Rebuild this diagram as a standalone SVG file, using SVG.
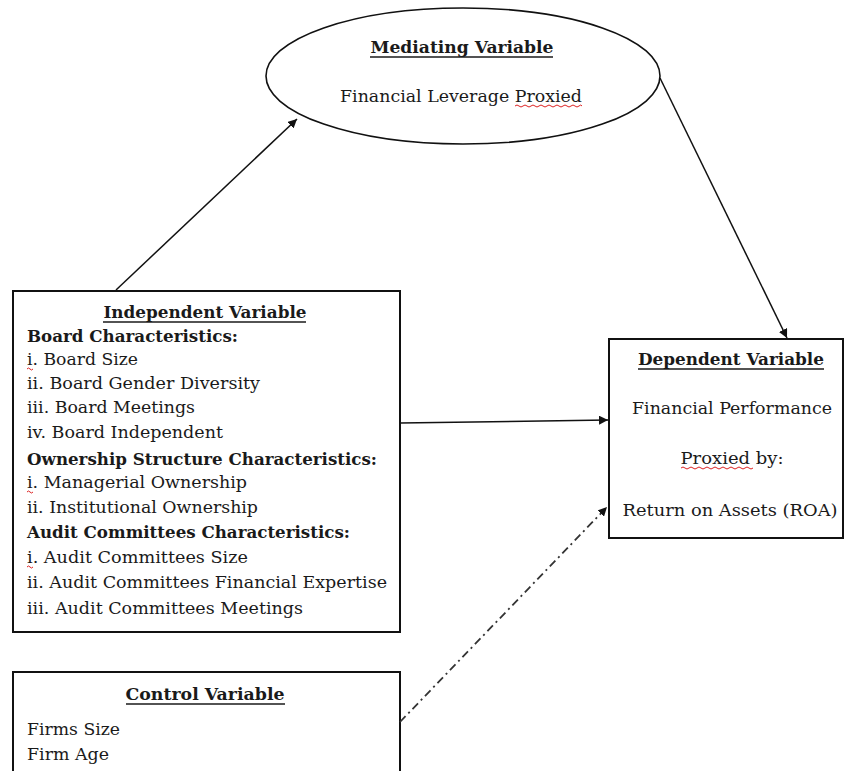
<svg xmlns="http://www.w3.org/2000/svg" width="846" height="771" viewBox="0 0 846 771">
<defs>
<style>
text{font-family:"DejaVu Serif","Liberation Serif",serif;font-size:17.5px;fill:#1a1a1a}
.b{font-weight:bold}
.box{fill:#fff;stroke:#111;stroke-width:2}
.ul{stroke:#1a1a1a;stroke-width:1.3}
.con{stroke:#111;stroke-width:1.5;fill:none}
.dd{stroke:#333;stroke-width:1.8;fill:none;stroke-dasharray:8 4 2 4}
.sq{stroke:#d22;stroke-width:1;fill:none}
</style>
<marker id="ah" viewBox="0 0 10 10" refX="10" refY="5" markerWidth="9" markerHeight="9" markerUnits="userSpaceOnUse" orient="auto">
<path d="M0,0 L10,5 L0,10 z" fill="#111"/>
</marker>
</defs>
<rect width="846" height="771" fill="#fff"/>

<g id="mediating">
<ellipse cx="463" cy="76" rx="197" ry="68" fill="#fff" stroke="#111" stroke-width="1.6"/>
<text class="b" x="462" y="53" text-anchor="middle" textLength="183" lengthAdjust="spacingAndGlyphs">Mediating Variable</text>
<line class="ul" x1="370" y1="57" x2="553" y2="57"/>
<text x="461" y="102" text-anchor="middle" textLength="242" lengthAdjust="spacingAndGlyphs">Financial Leverage Proxied</text>
<path class="sq" d="M515,106 q2,-2 4,0 t4,0 t4,0 t4,0 t4,0 t4,0 t4,0 t4,0 t4,0 t4,0 t4,0 t4,0 t4,0 t4,0 t4,0 t4,0 t3,0"/>
</g>

<g id="independent">
<rect class="box" x="13" y="291" width="387" height="341"/>
<text class="b" x="205" y="318" text-anchor="middle" textLength="203" lengthAdjust="spacingAndGlyphs">Independent Variable</text>
<line class="ul" x1="103" y1="322" x2="306" y2="322"/>
<text class="b" x="27" y="342" textLength="211" lengthAdjust="spacingAndGlyphs">Board Characteristics:</text>
<text x="27" y="365" textLength="111" lengthAdjust="spacingAndGlyphs">i. Board Size</text>
<path class="sq" d="M27,369 q1.5,-2 3,0 t3,0"/>
<text x="27" y="389" textLength="233" lengthAdjust="spacingAndGlyphs">ii. Board Gender Diversity</text>
<text x="27" y="413" textLength="168" lengthAdjust="spacingAndGlyphs">iii. Board Meetings</text>
<text x="27" y="438" textLength="196" lengthAdjust="spacingAndGlyphs">iv. Board Independent</text>
<text class="b" x="27" y="465" textLength="350" lengthAdjust="spacingAndGlyphs">Ownership Structure Characteristics:</text>
<text x="27" y="488" textLength="220" lengthAdjust="spacingAndGlyphs">i. Managerial Ownership</text>
<path class="sq" d="M27,492 q1.5,-2 3,0 t3,0"/>
<text x="27" y="513" textLength="231" lengthAdjust="spacingAndGlyphs">ii. Institutional Ownership</text>
<text class="b" x="27" y="538" textLength="323" lengthAdjust="spacingAndGlyphs">Audit Committees Characteristics:</text>
<text x="27" y="563" textLength="221" lengthAdjust="spacingAndGlyphs">i. Audit Committees Size</text>
<path class="sq" d="M27,567 q1.5,-2 3,0 t3,0"/>
<text x="27" y="588" textLength="360" lengthAdjust="spacingAndGlyphs">ii. Audit Committees Financial Expertise</text>
<text x="27" y="614" textLength="276" lengthAdjust="spacingAndGlyphs">iii. Audit Committees Meetings</text>
</g>

<g id="dependent">
<rect class="box" x="609" y="339" width="234" height="199"/>
<text class="b" x="731" y="365" text-anchor="middle" textLength="186" lengthAdjust="spacingAndGlyphs">Dependent Variable</text>
<line class="ul" x1="638" y1="369" x2="824" y2="369"/>
<text x="732" y="414" text-anchor="middle" textLength="200" lengthAdjust="spacingAndGlyphs">Financial Performance</text>
<text x="732" y="464" text-anchor="middle" textLength="103" lengthAdjust="spacingAndGlyphs">Proxied by:</text>
<path class="sq" d="M681,468 q2,-2 4,0 t4,0 t4,0 t4,0 t4,0 t4,0 t4,0 t4,0 t4,0 t4,0 t4,0 t4,0 t4,0 t4,0 t4,0 t4,0 t4,0 t4,0"/>
<text x="730" y="516" text-anchor="middle" textLength="215" lengthAdjust="spacingAndGlyphs">Return on Assets (ROA)</text>
</g>

<g id="control">
<rect class="box" x="13" y="672" width="387" height="110"/>
<text class="b" x="205" y="700" text-anchor="middle" textLength="159" lengthAdjust="spacingAndGlyphs">Control Variable</text>
<line class="ul" x1="126" y1="704" x2="285" y2="704"/>
<text x="27" y="735" textLength="93" lengthAdjust="spacingAndGlyphs">Firms Size</text>
<text x="27" y="760" textLength="82" lengthAdjust="spacingAndGlyphs">Firm Age</text>
</g>

<g id="connectors">
<line class="con" x1="116" y1="290" x2="297" y2="119" marker-end="url(#ah)"/>
<line class="con" x1="660" y1="78" x2="787" y2="338" marker-end="url(#ah)"/>
<line class="con" x1="400" y1="423" x2="608" y2="420" marker-end="url(#ah)"/>
<line class="dd" x1="400" y1="722" x2="607" y2="507" marker-end="url(#ah)"/>
</g>
</svg>
